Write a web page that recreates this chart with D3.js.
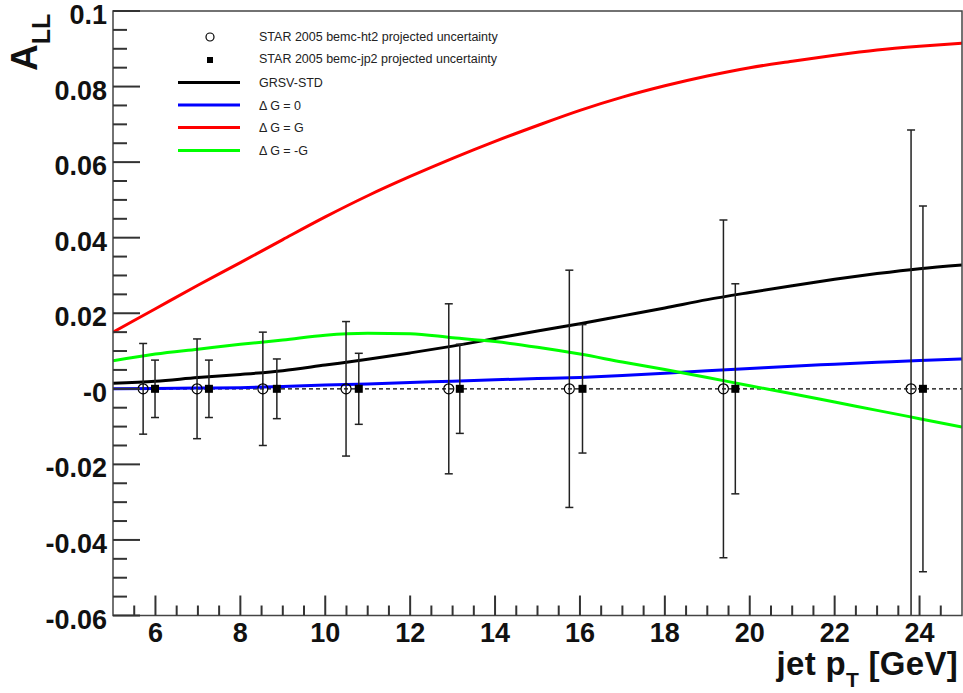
<!DOCTYPE html>
<html>
<head>
<meta charset="utf-8">
<script src="https://cdn.jsdelivr.net/npm/d3@7"></script>
<style>
  body { margin: 0; background: #fff; }
  svg { display: block; font-family: "Liberation Sans", Arial, Helvetica, sans-serif; }
</style>
</head>
<body>
<div id="chart"></div>
<script>
// theory curves, sampled at integer jet pT
var ptGrid = [5, 6, 7, 8, 9, 10, 11, 12, 13, 14, 15, 16, 17, 18, 19, 20, 21, 22, 23, 24, 25];
var grsvStd = [0.0015, 0.002, 0.003, 0.0038, 0.0048, 0.0063, 0.0078, 0.0095, 0.0113, 0.0133, 0.0153,
               0.0172, 0.0193, 0.0214, 0.0236, 0.0255, 0.0273, 0.029, 0.0305, 0.0318, 0.0328];
var dgZero = [0.0, 0.0001, 0.0002, 0.0003, 0.0006, 0.001, 0.0013, 0.0017, 0.002, 0.0024, 0.0027,
              0.003, 0.0035, 0.0041, 0.0048, 0.0054, 0.006, 0.0065, 0.007, 0.0075, 0.0079];
var dgPlus = [0.015, 0.0212, 0.0274, 0.0334, 0.0395, 0.0455, 0.0511, 0.0562, 0.061, 0.0655, 0.0697,
              0.0737, 0.0772, 0.0802, 0.0828, 0.085, 0.0867, 0.0883, 0.0897, 0.0907, 0.0915];
var dgMinus = [0.0074, 0.0092, 0.0105, 0.0118, 0.0129, 0.0142, 0.0147, 0.0146, 0.0135, 0.0125, 0.011,
               0.0092, 0.0071, 0.0051, 0.003, 0.0008, -0.0013, -0.0035, -0.0057, -0.0079, -0.0101];

// projected uncertainties (points sit at A_LL = 0)
var ht2Pt = [5.71, 6.98, 8.53, 10.49, 12.91, 15.75, 19.38, 23.80];
var ht2Err = [0.012, 0.0132, 0.015, 0.0178, 0.0225, 0.0314, 0.0447, 0.0685];
var jp2Pt = [5.99, 7.26, 8.86, 10.79, 13.17, 16.06, 19.66, 24.08];
var jp2Err = [0.0076, 0.0076, 0.0079, 0.0094, 0.0118, 0.017, 0.0278, 0.0484];

var yTickVals = [-0.06, -0.04, -0.02, 0, 0.02, 0.04, 0.06, 0.08, 0.1];
var yTickLabels = ["-0.06", "-0.04", "-0.02", "-0", "0.02", "0.04", "0.06", "0.08", "0.1"];
var xTickVals = [6, 8, 10, 12, 14, 16, 18, 20, 22, 24];

var curves = [
    { name: "GRSV-STD", color: "#000000", values: grsvStd },
    { name: "\u0394 G = 0", color: "#0000ff", values: dgZero },
    { name: "\u0394 G = G", color: "#ff0000", values: dgPlus },
    { name: "\u0394 G = -G", color: "#00ff00", values: dgMinus }
];

var width = 963, height = 693;
var padL = 113, padR = 962, padT = 11, padB = 615.5;

var svg = d3.select("#chart").append("svg")
    .attr("width", width)
    .attr("height", height);

var x = d3.scaleLinear().domain([5, 25]).range([padL, padR]);
var y = d3.scaleLinear().domain([-0.06, 0.1]).range([padB, padT]);

svg.append("clipPath").attr("id", "plotclip")
  .append("rect")
    .attr("x", padL).attr("y", padT)
    .attr("width", padR - padL).attr("height", padB - padT);

var plot = svg.append("g").attr("clip-path", "url(#plotclip)");

// zero line
plot.append("line")
    .attr("x1", x(5)).attr("x2", x(25))
    .attr("y1", y(0)).attr("y2", y(0))
    .attr("stroke", "#000")
    .attr("stroke-width", 1.2)
    .attr("stroke-dasharray", "4,3");

// theory curves
var line = d3.line()
    .x(function (d, i) { return x(ptGrid[i]); })
    .y(function (d) { return y(d); })
    .curve(d3.curveMonotoneX);

curves.forEach(function (c) {
    plot.append("path")
        .attr("d", line(c.values))
        .attr("fill", "none")
        .attr("stroke", c.color)
        .attr("stroke-width", 3);
});

// error bars
function drawErrors(pts, errs) {
    var g = plot.append("g").attr("stroke", "#222").attr("stroke-width", 1.5);
    pts.forEach(function (p, i) {
        var cx = x(p);
        g.append("line")
            .attr("x1", cx).attr("x2", cx)
            .attr("y1", y(errs[i])).attr("y2", y(-errs[i]));
        [errs[i], -errs[i]].forEach(function (e) {
            g.append("line")
                .attr("x1", cx - 4).attr("x2", cx + 4)
                .attr("y1", y(e)).attr("y2", y(e));
        });
    });
}
drawErrors(ht2Pt, ht2Err);
drawErrors(jp2Pt, jp2Err);

plot.selectAll(".ht2").data(ht2Pt).enter()
  .append("circle")
    .attr("cx", function (d) { return x(d); })
    .attr("cy", y(0))
    .attr("r", 5)
    .attr("fill", "none")
    .attr("stroke", "#000")
    .attr("stroke-width", 1.2);

plot.selectAll(".jp2").data(jp2Pt).enter()
  .append("rect")
    .attr("x", function (d) { return x(d) - 4; })
    .attr("y", y(0) - 4)
    .attr("width", 8)
    .attr("height", 8)
    .attr("fill", "#000");

// frame
svg.append("rect")
    .attr("x", padL).attr("y", padT)
    .attr("width", padR - padL).attr("height", padB - padT)
    .attr("fill", "none")
    .attr("stroke", "#444")
    .attr("stroke-width", 1.5);

// y axis ticks
var yMinor = d3.range(-0.06, 0.1001, 0.005);
svg.append("g").selectAll("line").data(yMinor).enter()
  .append("line")
    .attr("x1", padL)
    .attr("x2", function (d) {
        var major = Math.abs(Math.round(d / 0.02) * 0.02 - d) < 1e-6;
        return padL + (major ? 27 : 14);
    })
    .attr("y1", function (d) { return y(d); })
    .attr("y2", function (d) { return y(d); })
    .attr("stroke", "#333")
    .attr("stroke-width", 2);

svg.append("g").selectAll("text").data(yTickVals).enter()
  .append("text")
    .attr("x", padL - 6)
    .attr("y", function (d) { return y(d) + 13; })
    .attr("text-anchor", "end")
    .attr("font-size", 27)
    .attr("font-weight", "bold")
    .attr("fill", "#111")
    .text(function (d, i) { return yTickLabels[i]; });

// x axis ticks
var xMinor = d3.range(5.5, 25, 0.5);
svg.append("g").selectAll("line").data(xMinor).enter()
  .append("line")
    .attr("x1", function (d) { return x(d); })
    .attr("x2", function (d) { return x(d); })
    .attr("y1", padB)
    .attr("y2", function (d) { return padB - (d % 2 === 0 ? 20 : 10); })
    .attr("stroke", "#333")
    .attr("stroke-width", 2);

svg.append("g").selectAll("text").data(xTickVals).enter()
  .append("text")
    .attr("x", function (d) { return x(d); })
    .attr("y", padB + 26)
    .attr("text-anchor", "middle")
    .attr("font-size", 27)
    .attr("font-weight", "bold")
    .attr("fill", "#111")
    .text(function (d) { return d; });

// axis titles
var yt = svg.append("text")
    .attr("transform", "translate(37,71) rotate(-90)")
    .attr("font-weight", "bold")
    .attr("fill", "#111");
yt.append("tspan").attr("font-size", 37).text("A");
yt.append("tspan").attr("font-size", 25).attr("dy", 13).text("LL");

var xt = svg.append("text")
    .attr("x", 958)
    .attr("y", 675)
    .attr("text-anchor", "end")
    .attr("font-size", 33)
    .attr("font-weight", "bold")
    .attr("letter-spacing", 0.3)
    .attr("fill", "#111");
xt.append("tspan").text("jet p");
xt.append("tspan").attr("font-size", 21).attr("dy", 12).text("T");
xt.append("tspan").attr("dy", -12).text(" [GeV]");

// legend
var lg = svg.append("g").attr("font-size", 12.5).attr("fill", "#222");
lg.append("circle").attr("cx", 210).attr("cy", 37).attr("r", 4)
    .attr("fill", "none").attr("stroke", "#000").attr("stroke-width", 1.2);
lg.append("rect").attr("x", 207).attr("y", 57).attr("width", 6).attr("height", 6).attr("fill", "#000");
lg.append("text").attr("x", 259).attr("y", 41).text("STAR 2005 bemc-ht2 projected uncertainty");
lg.append("text").attr("x", 259).attr("y", 63).text("STAR 2005 bemc-jp2 projected uncertainty");

var legendY = [82.5, 105, 127.5, 150.5];
curves.forEach(function (c, i) {
    lg.append("line")
        .attr("x1", 178).attr("x2", 240)
        .attr("y1", legendY[i]).attr("y2", legendY[i])
        .attr("stroke", c.color)
        .attr("stroke-width", 3);
    lg.append("text").attr("x", 259).attr("y", legendY[i] + 4.5).text(c.name);
});
</script>
</body>
</html>
